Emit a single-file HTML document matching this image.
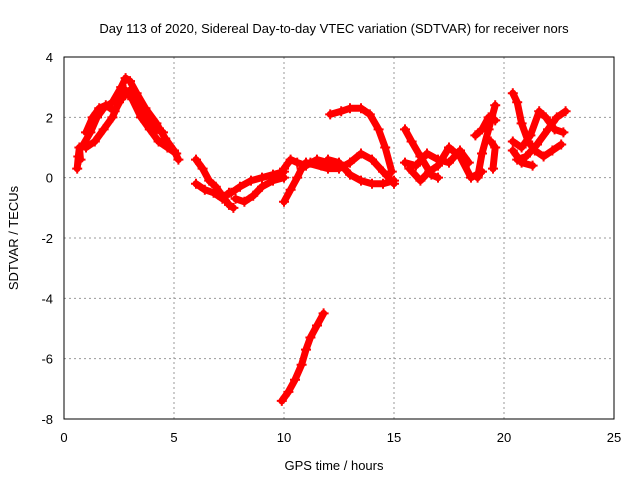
<!DOCTYPE html>
<html><head><meta charset="utf-8"><style>
body{margin:0;background:#fff}
svg text{font-family:"Liberation Sans",sans-serif;font-size:13px;fill:#000}
</style></head><body>
<svg id="c" width="640" height="480">
<text x="334" y="33" text-anchor="middle">Day 113 of 2020, Sidereal Day-to-day VTEC variation (SDTVAR) for receiver nors</text>
<text x="334" y="470" text-anchor="middle">GPS time / hours</text>
<text transform="translate(18,238) rotate(-90)" text-anchor="middle">SDTVAR / TECUs</text>
<g id="grid"></g><g id="marks"></g>
<rect x="64" y="57" width="550" height="362" fill="none" stroke="#000" stroke-width="1"/>
</svg>
<script>
const xTicks=[0,5,10,15,20,25];
const yTicks=[4,2,0,-2,-4,-6,-8];
const track1=[[0.6,0.3],[0.65,0.7],[0.7,1.0],[0.75,0.6]];
const track2=[[0.8,1.0],[1.2,1.5],[1.5,2.0],[1.8,2.3],[2.2,2.5],[2.6,3.0],[2.8,3.3],[3.0,3.2],[3.3,2.8],[3.7,2.3],[4.2,1.8],[4.6,1.3],[5.0,0.9],[5.2,0.6]];
const track3=[[1.0,1.0],[1.4,1.2],[1.8,1.6],[2.2,2.0],[2.5,2.5],[2.8,2.9],[3.1,2.6],[3.5,2.0],[3.9,1.6],[4.3,1.2],[4.7,1.0],[5.1,0.8]];
const track4=[[1.0,1.5],[1.3,2.0],[1.6,2.3],[1.9,2.4],[2.3,2.2],[2.6,2.6],[3.0,2.9],[3.4,2.4],[3.8,2.0],[4.2,1.6],[4.5,1.5]];
const track5=[[6.0,0.6],[6.3,0.3],[6.6,-0.1],[6.9,-0.3],[7.2,-0.6],[7.5,-0.9],[7.7,-1.0]];
const track6=[[6.0,-0.2],[6.4,-0.4],[6.8,-0.5],[7.2,-0.7],[7.5,-0.5]];
const track7=[[7.6,-0.5],[8.0,-0.3],[8.5,-0.1],[9.0,0.0],[9.5,0.1],[10.0,0.2]];
const track8=[[7.8,-0.7],[8.2,-0.8],[8.6,-0.6],[9.0,-0.3],[9.5,-0.1],[10.0,0.0]];
const track9=[[10.0,-0.8],[10.3,-0.4],[10.6,0.0],[10.8,0.3],[11.2,0.5],[11.7,0.4],[12.2,0.4]];
const track10=[[10.0,0.3],[10.3,0.6],[10.6,0.5],[11.0,0.4],[11.5,0.6],[12.0,0.5]];
const track11=[[9.9,-7.4],[10.2,-7.1],[10.5,-6.7],[10.8,-6.2],[11.0,-5.7],[11.2,-5.3],[11.5,-4.9],[11.8,-4.5]];
const track12=[[12.1,2.1],[12.6,2.2],[13.0,2.3],[13.5,2.3],[13.9,2.1],[14.3,1.6],[14.6,1.0],[14.9,0.2]];
const track13=[[11.0,0.5],[12.0,0.3],[12.5,0.3],[13.0,0.5],[13.5,0.8],[14.0,0.6],[14.5,0.2],[15.0,-0.2]];
const track14=[[12.0,0.6],[12.5,0.5],[13.0,0.1],[13.5,-0.1],[14.0,-0.2],[14.5,-0.2],[15.0,-0.1]];
const track15=[[15.5,1.6],[15.8,1.2],[16.2,0.7],[16.7,0.1],[17.0,0.0]];
const track16=[[15.5,0.5],[16.0,0.4],[16.5,0.8],[17.0,0.6],[17.5,0.5],[18.0,0.9],[18.4,0.5]];
const track17=[[15.7,0.3],[16.2,-0.1],[16.6,0.2],[17.0,0.4],[17.5,1.0],[18.0,0.7],[18.5,0.0],[19.0,0.2]];
const track18=[[18.8,0.0],[19.0,0.8],[19.3,1.6],[19.6,2.4]];
const track19=[[18.7,1.4],[19.0,1.6],[19.3,2.0],[19.6,1.9]];
const track20=[[19.5,0.3],[19.6,1.0],[19.4,1.2]];
const track21=[[20.4,2.8],[20.6,2.5],[20.8,1.8],[21.1,1.2],[21.4,0.9],[21.8,0.7],[22.2,0.9],[22.6,1.1]];
const track22=[[20.4,1.2],[20.8,1.0],[21.2,1.4],[21.6,2.2],[21.9,2.0],[22.3,1.6],[22.7,1.5]];
const track23=[[20.6,0.6],[21.0,0.7],[21.5,1.1],[22.0,1.6],[22.4,2.0],[22.8,2.2]];
const track24=[[20.4,0.9],[20.8,0.5],[21.3,0.4]];
const tracks=[track1,track2,track3,track4,track5,track6,track7,track8,track9,track10,track11,track12,track13,track14,track15,track16,track17,track18,track19,track20,track21,track22,track23,track24];
const NS="http://www.w3.org/2000/svg";
const X=v=>64+v*22, Y=v=>57+(4-v)*(362/12);
const grid=document.getElementById('grid'), marks=document.getElementById('marks'), svg=document.getElementById('c');
function mk(t,a,p){const e=document.createElementNS(NS,t);for(const k in a)e.setAttribute(k,a[k]);p.appendChild(e);return e;}
xTicks.forEach(t=>{
  if(t>0&&t<25){const l=mk('line',{x1:X(t),x2:X(t),y1:57,y2:419,stroke:'#999','stroke-dasharray':'2,3'},grid);
  
  }
  const tx=mk('text',{x:X(t),y:442,'text-anchor':'middle'},svg);tx.textContent=t;
  
  
});
yTicks.forEach(t=>{
  if(t<4&&t>-8){const l=mk('line',{x1:64,x2:614,y1:Y(t),y2:Y(t),stroke:'#999','stroke-dasharray':'2,3'},grid);
  
  }
  const tx=mk('text',{x:53,y:Y(t)+5,'text-anchor':'end'},svg);tx.textContent=t;
  
  
});
tracks.forEach(tr=>{
  const pl=mk('polyline',{points:tr.map(p=>X(p[0])+','+Y(p[1])).join(' '),fill:'none',stroke:'#f00','stroke-width':7,'stroke-linejoin':'round','stroke-linecap':'round'},marks);
  
  
  tr.forEach(p=>{
    const x=X(p[0]),y=Y(p[1]);
    const m=mk('path',{d:`M${x-5},${y}H${x+5}M${x},${y-5}V${y+5}`,stroke:'#f00','stroke-width':2},marks);
    
    
  });
});
</script>
</body></html>
